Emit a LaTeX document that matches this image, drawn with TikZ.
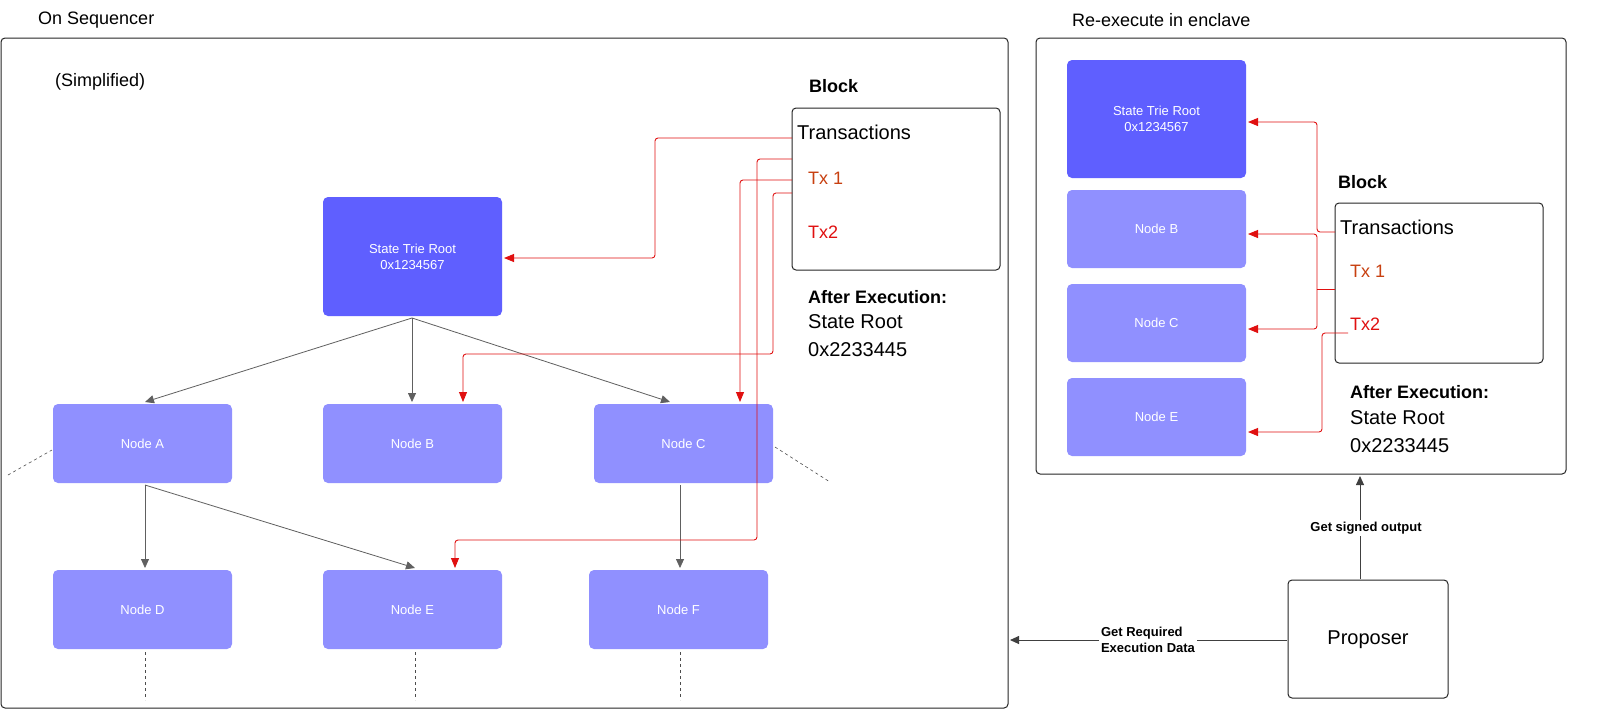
\documentclass[tikz,border=0pt]{standalone}
\usepackage{fontspec}
\setmainfont{Liberation Sans}
\usetikzlibrary{arrows.meta}
\definecolor{rootc}{HTML}{5F5FFF}
\definecolor{nodec}{HTML}{9090FF}
\definecolor{txred}{HTML}{E01010}
\definecolor{txor}{HTML}{C84010}
\definecolor{grayl}{HTML}{606060}
\begin{document}
\begin{tikzpicture}[x=1pt,y=-1pt,
 frame/.style={draw=black!85,line width=1pt,rounded corners=4pt},
 rootbox/.style={fill=rootc,rounded corners=5pt,text=white,font=\fontsize{13}{16}\selectfont,align=center},
 nbox/.style={fill=nodec,rounded corners=5pt,text=white,font=\fontsize{13}{16}\selectfont,align=center},
 garr/.style={draw=grayl,line width=0.8pt,-{Triangle[length=9pt,width=8pt]}},
 rarr/.style={draw=txred,line width=0.9pt,rounded corners=3pt,-{Triangle[length=10pt,width=8pt]}},
 rline/.style={draw=txred,line width=0.9pt,rounded corners=3pt},
 dstub/.style={draw=black!70,dashed,line width=0.6pt},
 lbl/.style={anchor=west,inner sep=0pt,font=\fontsize{18}{22}\selectfont},
 big/.style={anchor=west,inner sep=0pt,font=\fontsize{20}{24}\selectfont},
 bold/.style={anchor=west,inner sep=0pt,font=\bfseries\fontsize{18}{22}\selectfont},
 small/.style={font=\bfseries\fontsize{13}{16}\selectfont,align=left,inner sep=2pt,fill=white}]
\fill[white] (0,0) rectangle (1600,724);
% frames
\draw[frame] (1,38) rectangle (1008,708);
\draw[frame] (1036,38) rectangle (1566,474);
\node[lbl] (t1) at (38,20) {On Sequencer};
\node[lbl] (t2) at (1072,20) {Re-execute in enclave};
\node[lbl] (simp) at (55,82) {(Simplified)};
% left tree
\path[rootbox] (323,197) rectangle (502,316) node[pos=.5] (root) {State Trie Root\\0x1234567};
\coordinate (rootS) at (412,318);
\path[nbox] (53,404) rectangle (232,483) node[pos=.5] (A) {Node A};
\path[nbox] (323,404) rectangle (502,483) node[pos=.5] (B) {Node B};
\path[nbox] (594,404) rectangle (773,483) node[pos=.5] (C) {Node C};
\path[nbox] (53,570) rectangle (232,649) node[pos=.5] (D) {Node D};
\path[nbox] (323,570) rectangle (502,649) node[pos=.5] (E) {Node E};
\path[nbox] (589,570) rectangle (768,649) node[pos=.5] (F) {Node F};
\draw[garr] (rootS) -- (145,402);
\draw[garr] (rootS) -- (412,402);
\draw[garr] (rootS) -- (670,402);
\draw[garr] (145,485) -- (145,568);
\draw[garr] (145,485) -- (415,568);
\draw[garr] (680,485) -- (680,568);
\draw[dstub] (8,475) -- (52,450);
\draw[dstub] (775,447) -- (830,482);
\draw[dstub] (145,652) -- (145,700);
\draw[dstub] (415,652) -- (415,700);
\draw[dstub] (680,652) -- (680,700);
% left block
\node[bold] (blk) at (809,86) {Block};
\draw[frame] (792,108) rectangle (1000,270);
\node[big] (tr) at (797,132) {Transactions};
\node[lbl,text=txor] (tx1) at (808,178) {Tx 1};
\node[lbl,text=txred] (tx2) at (808,232) {Tx2};
\node[bold] (ae) at (808,297) {After Execution:};
\node[lbl,font=\fontsize{20}{24}\selectfont] (sr) at (808,322) {State Root};
\node[lbl,font=\fontsize{20}{24}\selectfont] (sv) at (808,350) {0x2233445};
\draw[rarr] (792,138) -- (655,138) -- (655,258) -- (504,258);
\draw[rarr] (792,159) -- (757,159) -- (757,540) -- (455,540) -- (455,568);
\draw[rarr] (792,180) -- (740,180) -- (740,402);
\draw[rarr] (792,193) -- (773,193) -- (773,354) -- (463,354) -- (463,402);
% right panel
\path[rootbox] (1067,60) rectangle (1246,178) node[pos=.5] (r2) {State Trie Root\\0x1234567};
\path[nbox] (1067,190) rectangle (1246,268) node[pos=.5] (B2) {Node B};
\path[nbox] (1067,284) rectangle (1246,362) node[pos=.5] (C2) {Node C};
\path[nbox] (1067,378) rectangle (1246,456) node[pos=.5] (E2) {Node E};
\node[bold] (blk2) at (1338,182) {Block};
\draw[frame] (1335,203) rectangle (1543,363);
\node[big] (tr2) at (1340,227) {Transactions};
\node[lbl,text=txor] (tx12) at (1350,271) {Tx 1};
\node[lbl,text=txred] (tx22) at (1350,324) {Tx2};
\node[bold] (ae2) at (1350,392) {After Execution:};
\node[lbl,font=\fontsize{20}{24}\selectfont] (sr2) at (1350,418) {State Root};
\node[lbl,font=\fontsize{20}{24}\selectfont] (sv2) at (1350,446) {0x2233445};
\draw[rarr] (1335,232) -- (1317,232) -- (1317,122) -- (1248,122);
\draw[rline] (1335,289) -- (1317,289);
\draw[rarr] (1317,289) -- (1317,234) -- (1248,234);
\draw[rarr] (1317,289) -- (1317,329) -- (1248,329);
\draw[rarr] (1348,333) -- (1322,333) -- (1322,432) -- (1248,432);
% proposer
\draw[frame] (1288,580) rectangle (1448,698);
\node[font=\fontsize{20}{24}\selectfont] (prop) at (1368,640) {Proposer};
\draw[draw=black!75,line width=1pt,-{Triangle[length=9pt,width=8pt]}] (1360,579) -- (1360,476);
\node[small] (gso) at (1366,528) {Get signed output};
\draw[draw=black!75,line width=1pt,-{Triangle[length=9pt,width=8pt]}] (1287,640) -- (1010,640);
\node[small] (gre) at (1148,640) {Get Required\\Execution Data};
\pgfresetboundingbox
\useasboundingbox (0,0) rectangle (1600,724);
\end{tikzpicture}
\end{document}
